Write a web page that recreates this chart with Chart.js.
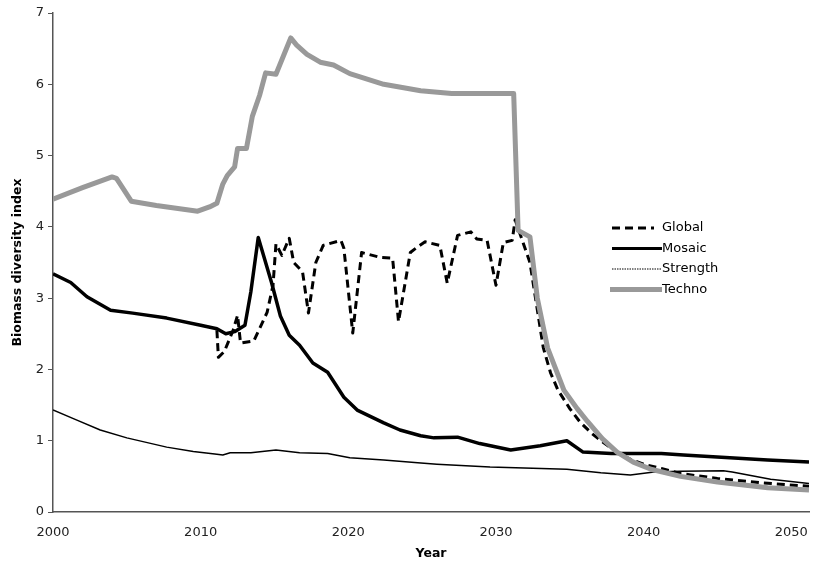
<!DOCTYPE html>
<html>
<head>
<meta charset="utf-8">
<script src="https://cdn.jsdelivr.net/npm/chart.js@4.4.0/dist/chart.umd.min.js"></script>
<style>
  html, body { margin: 0; padding: 0; background: #fff; }
  #wrap { width: 822px; height: 565px; }
</style>
</head>
<body>
<div id="wrap"><canvas id="chart" width="822" height="565"></canvas></div>
<script>
// ------------------ Data ------------------
const xTicks = [2000, 2010, 2020, 2030, 2040, 2050];
const yTicks = [0, 1, 2, 3, 4, 5, 6, 7];

const globalYears = [2011.1, 2011.2, 2011.6, 2012.2, 2012.5, 2012.7, 2013.6, 2014.5, 2014.9, 2015.1,
    2015.5, 2016.0, 2016.3, 2016.9, 2017.3, 2017.8, 2018.3, 2019.5, 2019.7, 2020.3,
    2020.9, 2022.2, 2023.0, 2023.4, 2024.2, 2024.7, 2025.2, 2026.2, 2026.7, 2027.4,
    2028.3, 2028.7, 2029.4, 2030.0, 2030.5, 2031.1, 2031.3, 2031.8, 2032.3, 2032.7,
    2033.2, 2033.7, 2034.2, 2035.0, 2035.7, 2036.5, 2037.3, 2038.2, 2039.0, 2040.0,
    2041.2, 2042.5, 2045.0, 2048.0, 2051.2];
const globalValues = [2.55, 2.17, 2.25, 2.55, 2.76, 2.37, 2.40, 2.80, 3.18, 3.76,
    3.60, 3.84, 3.50, 3.37, 2.79, 3.50, 3.74, 3.81, 3.70, 2.51,
    3.64, 3.57, 3.56, 2.67, 3.64, 3.72, 3.79, 3.74, 3.21, 3.88,
    3.93, 3.83, 3.81, 3.18, 3.78, 3.81, 4.10, 3.80, 3.50, 2.97,
    2.31, 1.95, 1.71, 1.45, 1.26, 1.10, 0.97, 0.84, 0.75, 0.67,
    0.61, 0.54, 0.47, 0.41, 0.36];

const mosaicYears = [2000, 2001.2, 2002.3, 2003.9, 2005.4, 2007.7, 2010.0, 2011.1, 2011.7, 2012.3,
    2013.0, 2013.4, 2013.9, 2014.8, 2015.4, 2016.0, 2016.7, 2017.6, 2018.6, 2019.7,
    2020.6, 2022.4, 2023.5, 2024.9, 2025.8, 2027.4, 2028.9, 2031.0, 2033.0, 2034.8,
    2035.9, 2037.8, 2041.2, 2042.7, 2048.4, 2051.2];
const mosaicValues = [3.34, 3.22, 3.02, 2.83, 2.79, 2.72, 2.62, 2.57, 2.50, 2.53,
    2.62, 3.09, 3.85, 3.22, 2.75, 2.48, 2.34, 2.09, 1.96, 1.61,
    1.43, 1.25, 1.15, 1.07, 1.04, 1.05, 0.96, 0.87, 0.93, 1.00,
    0.84, 0.82, 0.82, 0.80, 0.73, 0.70];

const strengthYears = [2000, 2001.5, 2003.2, 2005.0, 2007.7, 2009.5, 2011.1, 2011.5, 2012.0, 2013.4,
    2015.1, 2016.7, 2018.6, 2020.1, 2022.4, 2024.7, 2026.0, 2029.6, 2034.8, 2037.1,
    2039.1, 2040.7, 2042.5, 2045.4, 2046.0, 2048.6, 2051.2];
const strengthValues = [1.43, 1.30, 1.15, 1.04, 0.91, 0.85, 0.81, 0.80, 0.83, 0.83,
    0.87, 0.83, 0.82, 0.76, 0.73, 0.69, 0.67, 0.63, 0.60, 0.55,
    0.52, 0.56, 0.57, 0.58, 0.56, 0.46, 0.40];

const technoYears = [2000, 2002, 2004, 2004.3, 2005.3, 2007, 2009.8, 2010.6, 2011.1, 2011.5,
    2011.8, 2012.3, 2012.5, 2013.1, 2013.5, 2014.0, 2014.4, 2015.1, 2016.1, 2016.5,
    2017.2, 2018.1, 2019.0, 2020.1, 2022.4, 2024.9, 2027.0, 2031.2, 2031.5, 2032.3,
    2032.8, 2033.5, 2034.6, 2035.5, 2036.2, 2037.2, 2038.2, 2039.3, 2040.5, 2042.5,
    2045.0, 2048.4, 2051.2];
const technoValues = [4.39, 4.55, 4.70, 4.68, 4.36, 4.30, 4.22, 4.28, 4.33, 4.60,
    4.72, 4.84, 5.10, 5.10, 5.55, 5.85, 6.16, 6.14, 6.65, 6.55,
    6.42, 6.31, 6.27, 6.15, 6.00, 5.91, 5.87, 5.87, 3.95, 3.86,
    3.00, 2.30, 1.71, 1.45, 1.27, 1.03, 0.84, 0.70, 0.60, 0.50,
    0.42, 0.34, 0.31];

function toPoints(xs, ys) {
    return xs.map((x, i) => ({ x: x, y: ys[i] }));
}

const FONT = '"DejaVu Sans", Verdana, sans-serif';

// ------------------ Legend drawn inside the plot ------------------
const legendSamples = {
    'Global':   { dash: [8, 5], width: 3, color: '#000', x1: 612, x2: 654 },
    'Mosaic':   { dash: [], width: 3, color: '#000', x1: 612, x2: 662 },
    'Strength': { dash: [1.5, 1], width: 1, color: '#000', x1: 612, x2: 662 },
    'Techno':   { dash: [], width: 5, color: '#999', x1: 610, x2: 662 }
};

const insideLegend = {
    id: 'insideLegend',
    afterDraw(chart) {
        const ctx = chart.ctx;
        ctx.save();
        ctx.font = '13px ' + FONT;
        ctx.fillStyle = '#000';
        ctx.textBaseline = 'middle';
        chart.data.datasets.forEach((ds, i) => {
            const s = legendSamples[ds.label];
            const y = 228 + i * 20.5;
            ctx.beginPath();
            ctx.setLineDash(s.dash);
            ctx.lineWidth = s.width;
            ctx.strokeStyle = s.color;
            ctx.moveTo(s.x1, y);
            ctx.lineTo(s.x2, y);
            ctx.stroke();
            ctx.setLineDash([]);
            ctx.fillText(ds.label, 662, y);
        });
        ctx.restore();
    }
};

// ------------------ Chart ------------------
const ctx = document.getElementById('chart').getContext('2d');

new Chart(ctx, {
    type: 'line',
    data: {
        datasets: [
            { label: 'Global', data: toPoints(globalYears, globalValues),
              borderColor: '#000', borderWidth: 3, borderDash: [8, 5], order: 2 },
            { label: 'Mosaic', data: toPoints(mosaicYears, mosaicValues),
              borderColor: '#000', borderWidth: 3.5, order: 3 },
            { label: 'Strength', data: toPoints(strengthYears, strengthValues),
              borderColor: '#000', borderWidth: 1.5, order: 4 },
            { label: 'Techno', data: toPoints(technoYears, technoValues),
              borderColor: '#999', borderWidth: 5, order: 1 }
        ]
    },
    options: {
        responsive: false,
        animation: false,
        elements: {
            point: { radius: 0 },
            line: { tension: 0, borderCapStyle: 'butt', borderJoinStyle: 'round' }
        },
        layout: { padding: { top: 13, right: 13, left: 0, bottom: 0 } },
        plugins: {
            legend: { display: false },
            tooltip: { enabled: false }
        },
        scales: {
            x: {
                type: 'linear',
                min: 2000,
                max: 2051.2,
                afterBuildTicks: (scale) => { scale.ticks = xTicks.map(v => ({ value: v })); },
                afterFit: (scale) => { scale.height = 53; },
                grid: { display: false },
                border: { display: true, color: '#555', width: 1.5 },
                ticks: {
                    color: '#222', padding: 5, maxRotation: 0,
                    font: { family: FONT, size: 13 },
                    callback: (v) => String(v)
                },
                title: {
                    display: true, text: 'Year', color: '#000',
                    font: { family: FONT, size: 12.5, weight: 'bold' },
                    padding: { top: 4 }
                }
            },
            y: {
                min: 0,
                max: 7,
                afterBuildTicks: (scale) => { scale.ticks = yTicks.map(v => ({ value: v })); },
                afterFit: (scale) => { scale.width = 53; },
                grid: { display: true, drawOnChartArea: false, drawTicks: true, tickLength: 5, color: '#555' },
                border: { display: true, color: '#555', width: 1.5 },
                ticks: {
                    color: '#222', padding: 4,
                    font: { family: FONT, size: 13 },
                    callback: (v) => String(v)
                },
                title: {
                    display: true, text: 'Biomass diversity index', color: '#000',
                    font: { family: FONT, size: 12.5, weight: 'bold' },
                    padding: { top: 10, bottom: 0 }
                }
            }
        }
    },
    plugins: [insideLegend]
});
</script>
</body>
</html>
